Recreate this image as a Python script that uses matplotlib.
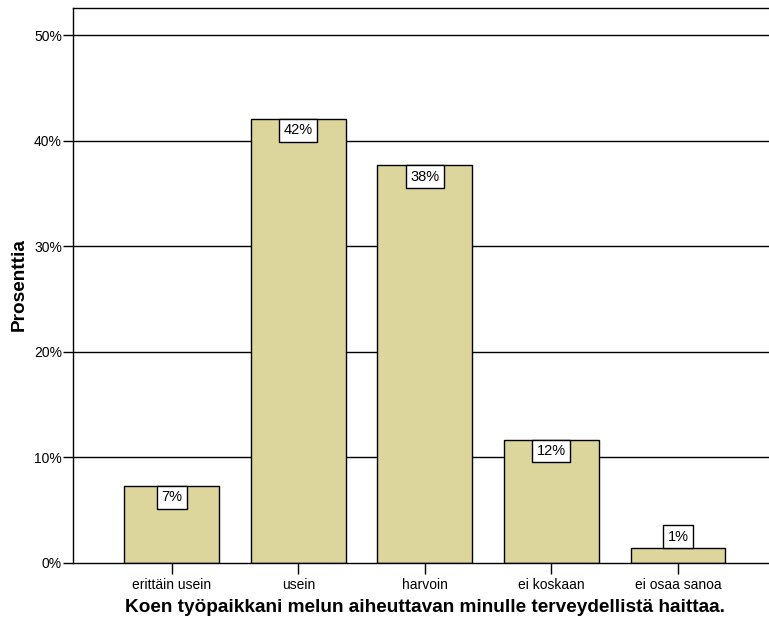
import matplotlib
matplotlib.use("Agg")
import matplotlib.pyplot as plt
from matplotlib.ticker import FuncFormatter

plt.rcParams['font.family'] = ['Liberation Sans', 'DejaVu Sans']

categories = ["erittäin usein", "usein", "harvoin", "ei koskaan", "ei osaa sanoa"]
percent = [7.3, 42.1, 37.7, 11.7, 1.4]
y_ticks = [0, 10, 20, 30, 40, 50]

bar_color = "#DCD69C"

fig = plt.figure(figsize=(7.69, 6.28), dpi=100)
ax = fig.add_axes([73 / 769, 1 - 563 / 628, (769 - 73) / 769 + 0.01, (563 - 8) / 628])

x = list(range(len(categories)))
ax.set_axisbelow(True)
for t in y_ticks[1:]:
    ax.axhline(t, color="black", linewidth=1.0, zorder=0)

ax.bar(x, percent, width=0.75, color=bar_color, edgecolor="black", linewidth=1.0, zorder=2)

ax.set_xlim(-0.78, 4.78)
ax.set_ylim(0, 52.6)
ax.set_yticks(y_ticks)
ax.yaxis.set_major_formatter(FuncFormatter(lambda v, p: f"{v:.0f}%"))
ax.set_xticks(x)
ax.set_xticklabels(categories)
ax.tick_params(axis="both", labelsize=10, colors="black", width=1.0)
ax.tick_params(axis="y", length=7, pad=1)
ax.tick_params(axis="x", length=8, pad=3)

for side in ["left", "top", "bottom"]:
    ax.spines[side].set_linewidth(1.0)
    ax.spines[side].set_color("black")
ax.spines["right"].set_visible(False)

pad = 0.3
box = dict(boxstyle=f"square,pad={pad}", facecolor="white", edgecolor="black", linewidth=1.0)
label_size = 10.5
offset = pad * label_size
for xi, v in zip(x, percent):
    label = f"{round(v):.0f}%"
    if v > 3:
        ax.annotate(label, (xi, v), xytext=(0, -offset), textcoords="offset points",
                    ha="center", va="top", fontsize=label_size, bbox=box, zorder=4)
    else:
        ax.annotate(label, (xi, v), xytext=(0, offset), textcoords="offset points",
                    ha="center", va="bottom", fontsize=label_size, bbox=box, zorder=4)

fig.text(425 / 769, 1 - 607 / 628, "Koen työpaikkani melun aiheuttavan minulle terveydellistä haittaa.",
         ha="center", va="center", fontsize=13.7, fontweight="bold")
fig.text(19 / 769, 1 - 285 / 628, "Prosenttia", rotation=90, ha="center", va="center",
         fontsize=13.7, fontweight="bold")

fig.savefig("out.png", dpi=100)
